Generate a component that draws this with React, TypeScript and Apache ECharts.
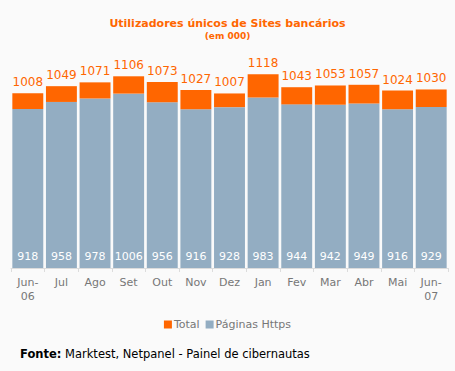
import React, { useEffect, useRef } from "react";
import * as echarts from "echarts";

const categories = ["Jun-\n06", "Jul", "Ago", "Set", "Out", "Nov", "Dez", "Jan", "Fev", "Mar", "Abr", "Mai", "Jun-\n07"];
const totalValues = [1008, 1049, 1071, 1106, 1073, 1027, 1007, 1118, 1043, 1053, 1057, 1024, 1030];
const httpsValues = [918, 958, 978, 1006, 956, 916, 928, 983, 944, 942, 949, 916, 929];

const FONT = "DejaVu Sans, Verdana, sans-serif";

export default function App() {
  const ref = useRef<HTMLDivElement>(null);
  useEffect(() => {
    if (!ref.current) return;
    const chart = echarts.init(ref.current, undefined, { renderer: "svg" });
    const diff = totalValues.map((t, i) => t - httpsValues[i]);
    chart.setOption({
      animation: false,
      backgroundColor: "#fafafa",
      textStyle: { fontFamily: FONT },
      title: {
        text: "Utilizadores únicos de Sites bancários",
        subtext: "(em 000)",
        left: "center",
        top: 13,
        itemGap: 2,
        textStyle: { color: "#ff6600", fontSize: 11, fontWeight: "bold", fontFamily: FONT },
        subtextStyle: { color: "#ff6600", fontSize: 9, fontWeight: "bold", fontFamily: FONT },
      },
      legend: {
        data: ["Total", "Páginas Https"],
        bottom: 36,
        left: "center",
        icon: "rect",
        itemWidth: 8,
        itemHeight: 8,
        itemGap: 6,
        textStyle: { color: "#777", fontSize: 11, fontFamily: FONT, padding: [0, 0, 0, -3] },
      },
      grid: { left: 11, right: 7, top: 60, bottom: 103 },
      xAxis: {
        type: "category",
        data: categories,
        axisLine: { lineStyle: { color: "#dcdcdc", width: 1 } },
        axisTick: { show: true, length: 4, lineStyle: { color: "#dcdcdc" } },
        axisLabel: { color: "#777", fontSize: 11, fontFamily: FONT, margin: 7, lineHeight: 14 },
      },
      yAxis: { type: "value", min: 0, max: 1200, show: false, splitLine: { show: false } },
      series: [
        {
          name: "Páginas Https",
          type: "bar",
          stack: "a",
          data: httpsValues,
          barCategoryGap: "8%",
          itemStyle: { color: "#93adc2" },
          label: {
            show: true,
            position: "insideBottom",
            distance: 6,
            color: "#fff",
            fontSize: 11,
            fontFamily: FONT,
          },
        },
        {
          name: "Total",
          type: "bar",
          stack: "a",
          data: diff,
          barCategoryGap: "8%",
          itemStyle: { color: "#ff6600" },
          label: {
            show: true,
            position: "top",
            distance: 5,
            color: "#ff6600",
            fontSize: 12,
            fontFamily: FONT,
            formatter: (p: any) => String(totalValues[p.dataIndex]),
          },
        },
      ],
      graphic: [
        {
          type: "text",
          left: 20,
          top: 348,
          style: {
            text: "{b|Fonte:} Marktest, Netpanel - Painel de cibernautas",
            rich: { b: { fontWeight: "bold", fontSize: 11.5, fontFamily: FONT, fill: "#000" } },
            fontSize: 11.5,
            fontFamily: FONT,
            fill: "#000",
          },
        },
      ],
    });
    return () => chart.dispose();
  }, []);
  return <div ref={ref} style={{ width: 455, height: 371, position: "absolute", left: 0, top: 0 }} />;
}
